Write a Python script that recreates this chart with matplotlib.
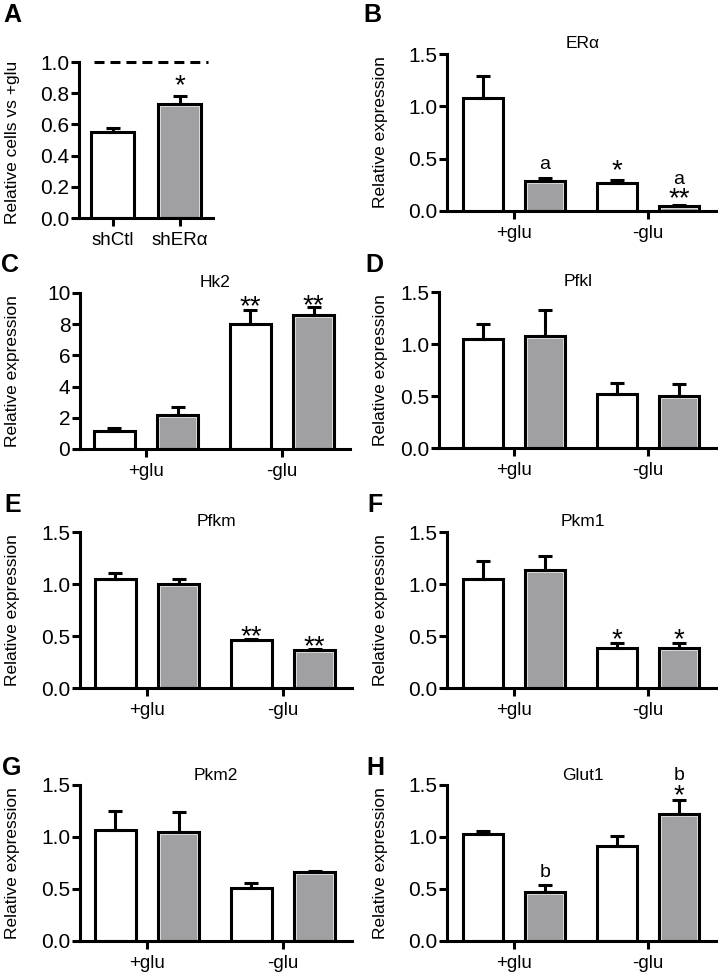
import matplotlib
matplotlib.use('Agg')
import matplotlib.pyplot as plt
import numpy as np

plt.rcParams['font.family'] = ['Liberation Sans', 'DejaVu Sans']
plt.rcParams['lines.scale_dashes'] = False

W, H = 718, 976
LW = 2.2            #line width of spines, bar edges, error bars
GRAY = '#a0a0a3'
STAR = 20           #font size of the asterisks
LETTER = 14         #font size of the a / b marks

GROUPS = ['+glu', '-glu']

#panel A: cells relative to +glu
A_LABELS = ['shCtl', 'shER\u03b1']
A_VALUES = [0.55, 0.73]
A_ERR = [0.028, 0.055]

#panels B-H: (white = shCtl, gray = shERa) for +glu, -glu
ERA_CTL, ERA_CTL_ERR = [1.08, 0.27], [0.21, 0.025]
ERA_SH, ERA_SH_ERR = [0.29, 0.048], [0.025, 0.012]

HK2_CTL, HK2_CTL_ERR = [1.15, 8.03], [0.22, 0.9]
HK2_SH, HK2_SH_ERR = [2.2, 8.57], [0.49, 0.53]

PFKL_CTL, PFKL_CTL_ERR = [1.045, 0.516], [0.15, 0.11]
PFKL_SH, PFKL_SH_ERR = [1.077, 0.497], [0.25, 0.12]

PFKM_CTL, PFKM_CTL_ERR = [1.044, 0.46], [0.057, 0.012]
PFKM_SH, PFKM_SH_ERR = [0.996, 0.364], [0.048, 0.008]

PKM1_CTL, PKM1_CTL_ERR = [1.047, 0.383], [0.17, 0.054]
PKM1_SH, PKM1_SH_ERR = [1.139, 0.38], [0.128, 0.05]

PKM2_CTL, PKM2_CTL_ERR = [1.067, 0.513], [0.186, 0.04]
PKM2_SH, PKM2_SH_ERR = [1.051, 0.66], [0.19, 0.016]

GLUT1_CTL, GLUT1_CTL_ERR = [1.026, 0.913], [0.032, 0.096]
GLUT1_SH, GLUT1_SH_ERR = [0.474, 1.218], [0.064, 0.138]


def px_axes(fig, left, right, top, bottom):
    return fig.add_axes([left / W, 1 - bottom / H, (right - left) / W, (bottom - top) / H])


def style(ax, ymax, yticks, fmt):
    for s in ['top', 'right']:
        ax.spines[s].set_visible(False)
    for s in ['left', 'bottom']:
        ax.spines[s].set_linewidth(LW)
    ax.set_ylim(0, ymax)
    ax.set_yticks(yticks)
    ax.set_yticklabels([fmt % t for t in yticks])
    ax.tick_params(axis='y', length=5.5, width=LW, labelsize=15, pad=1.5)
    ax.tick_params(axis='x', length=6, width=LW, labelsize=13.5, pad=4)


def draw_bars(ax, xs, vals, errs, color, width, px_x, px_y):
    ax.bar(xs, vals, width=width, color=color, edgecolor='black', linewidth=LW, zorder=2)
    if color != 'white':
        #thin light rim just inside the black outline
        ax.bar(xs, np.array(vals) - 2 * px_y, width=width - 4 * px_x, fill=False,
               edgecolor='#dadada', linewidth=0.7, zorder=2.1)
    ax.errorbar(xs, vals, yerr=[np.zeros(len(vals)), errs], fmt='none', ecolor='black',
                elinewidth=LW, capsize=5.2, capthick=LW, zorder=3)


def expr_panel(fig, box, t0, scale, title, ctl, ctl_err, sh, sh_err,
               ymax, yticks, fmt, notes):
    left, right, top, bottom = box
    ax = px_axes(fig, left, right, top, bottom)
    x = np.arange(len(GROUPS))
    off = 0.232
    px_x = 1.0 / scale
    px_y = ymax / float(bottom - top)
    draw_bars(ax, x - off, ctl, ctl_err, 'white', 0.30, px_x, px_y)
    draw_bars(ax, x + off, sh, sh_err, GRAY, 0.30, px_x, px_y)
    ax.set_xlim((left - t0) / scale, (right - t0) / scale)
    ax.set_xticks(x)
    ax.set_xticklabels(GROUPS)
    style(ax, ymax, yticks, fmt)
    ax.text(0.5, 1 + 10.0 / (bottom - top), title, transform=ax.transAxes,
            ha='center', va='center', fontsize=12.5)
    for bar, txt, y in notes:
        xpos = [x[0] - off, x[0] + off, x[1] - off, x[1] + off][bar]
        size = STAR if '*' in txt else LETTER
        ax.text(xpos, y, txt, ha='center', va='center', fontsize=size)
    ylab_x = 13 if left < 300 else 380
    fig.text(ylab_x / W, 1 - (top + bottom) / 2 / H, 'Relative expression',
             rotation=90, ha='center', va='center', fontsize=12.5)
    return ax


def main():
    fig = plt.figure(figsize=(W / 100, H / 100), dpi=100)

    #panel A
    ax = px_axes(fig, 79, 213, 62, 218)
    xa = np.arange(len(A_LABELS))
    ax.bar(xa, A_VALUES, width=0.63, color=['white', GRAY], edgecolor='black',
           linewidth=LW, zorder=2)
    ax.bar(xa[1:], [A_VALUES[1] - 2 / 156.0], width=0.63 - 4 / 67.0, fill=False,
           edgecolor='#dadada', linewidth=0.7, zorder=2.1)
    ax.errorbar(xa, A_VALUES, yerr=[np.zeros(2), A_ERR], fmt='none', ecolor='black',
                elinewidth=LW, capsize=5.2, capthick=LW, zorder=3)
    ax.plot([-0.28, 1.42], [1, 1], color='black', lw=LW, dashes=(7.2, 4.3),
            clip_on=False, zorder=3)
    ax.set_xlim(-0.5, 1.5)
    ax.set_xticks(xa)
    ax.set_xticklabels(A_LABELS)
    style(ax, 1.0, [0, 0.2, 0.4, 0.6, 0.8, 1.0], '%.1f')
    ax.text(1, 0.844, '*', ha='center', va='center', fontsize=STAR)
    fig.text(13 / W, 1 - 142 / H, 'Relative cells vs +glu', rotation=90,
             ha='center', va='center', fontsize=12.5)

    y15 = [0, 0.5, 1.0, 1.5]
    expr_panel(fig, (447, 718, 54, 211), 514, 134, 'ER\u03b1',
               ERA_CTL, ERA_CTL_ERR, ERA_SH, ERA_SH_ERR, 1.5, y15, '%.1f',
               [(1, 'a', 0.445), (2, '*', 0.376), (3, 'a', 0.30), (3, '**', 0.112)])
    expr_panel(fig, (80, 350, 293, 449), 146, 136, 'Hk2',
               HK2_CTL, HK2_CTL_ERR, HK2_SH, HK2_SH_ERR, 10, [0, 2, 4, 6, 8, 10], '%d',
               [(2, '**', 9.12), (3, '**', 9.18)])
    expr_panel(fig, (439, 718, 292, 448), 514, 134, 'Pfkl',
               PFKL_CTL, PFKL_CTL_ERR, PFKL_SH, PFKL_SH_ERR, 1.5, y15, '%.1f', [])
    expr_panel(fig, (80, 352, 532, 688), 147, 136, 'Pfkm',
               PFKM_CTL, PFKM_CTL_ERR, PFKM_SH, PFKM_SH_ERR, 1.5, y15, '%.1f',
               [(2, '**', 0.485), (3, '**', 0.389)])
    expr_panel(fig, (447, 718, 532, 688), 514, 134, 'Pkm1',
               PKM1_CTL, PKM1_CTL_ERR, PKM1_SH, PKM1_SH_ERR, 1.5, y15, '%.1f',
               [(2, '*', 0.462), (3, '*', 0.462)])
    expr_panel(fig, (80, 352, 785, 941), 147, 136, 'Pkm2',
               PKM2_CTL, PKM2_CTL_ERR, PKM2_SH, PKM2_SH_ERR, 1.5, y15, '%.1f', [])
    expr_panel(fig, (447, 718, 785, 941), 514, 134, 'Glut1',
               GLUT1_CTL, GLUT1_CTL_ERR, GLUT1_SH, GLUT1_SH_ERR, 1.5, y15, '%.1f',
               [(1, 'b', 0.66), (3, 'b', 1.59), (3, '*', 1.388)])

    #panel letters
    for letter, px, py in [('A', 3, 3), ('B', 363, 3), ('C', 1, 253), ('D', 365, 253),
                           ('E', 4, 493), ('F', 367, 493), ('G', 2, 756), ('H', 366, 756)]:
        fig.text(px / W, 1 - py / H, letter, ha='left', va='top',
                 fontsize=18, fontweight='bold')

    fig.savefig('out.png', dpi=100)


if __name__ == '__main__':
    main()
